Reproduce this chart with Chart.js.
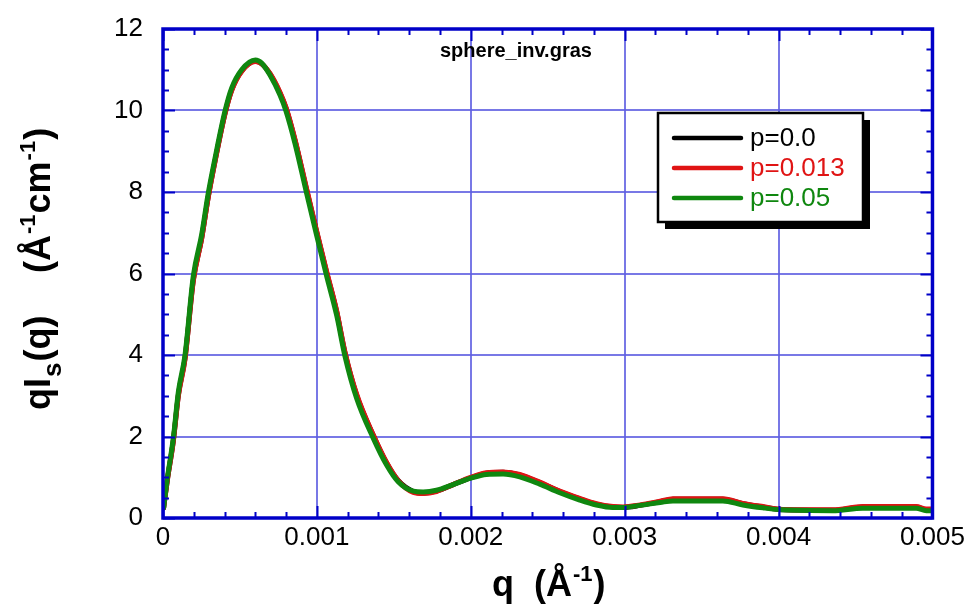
<!DOCTYPE html>
<html>
<head>
<meta charset="utf-8">
<script src="https://cdn.jsdelivr.net/npm/chart.js@4/dist/chart.umd.min.js"></script>
<style>
  html, body { margin: 0; padding: 0; background: #ffffff; }
  #wrap { width: 969px; height: 608px; position: relative; }
</style>
</head>
<body>
<div id="wrap"><canvas id="c" width="969" height="608"></canvas></div>
<script>
// Scattering vector q (1/Å)
const qValues = [
  0.000004, 0.000028, 0.000067, 0.0001, 0.000143, 0.000197, 0.000251, 0.000294,
  0.000338, 0.000403, 0.000446, 0.000511, 0.0006, 0.00064, 0.000695, 0.00076,
  0.000799, 0.000857, 0.000933, 0.000998, 0.001063, 0.001128, 0.001182, 0.001258,
  0.001366, 0.001453, 0.001528, 0.001626, 0.00169, 0.001777, 0.001885, 0.001994,
  0.002102, 0.00221, 0.002318, 0.002448, 0.002578, 0.002708, 0.002816, 0.002924,
  0.00299, 0.0031, 0.00323, 0.003314, 0.003638, 0.003768, 0.003898, 0.004028,
  0.004352, 0.004547, 0.004894, 0.00496, 0.005
];
// q*I_s(q) for each polydispersity p
const seriesP0 = [
  0.25, 0.93, 1.9, 3.02, 3.92, 5.84, 6.86, 7.88,
  8.76, 9.93, 10.5, 10.97, 11.21, 11.15, 10.9, 10.43,
  10.06, 9.28, 8.06, 7.03, 6.03, 5.07, 4.06, 3.02,
  2.03, 1.35, 0.92, 0.65, 0.61, 0.66, 0.82, 0.98,
  1.1, 1.12, 1.06, 0.87, 0.65, 0.47, 0.34, 0.27,
  0.26, 0.31, 0.4, 0.46, 0.46, 0.35, 0.27, 0.2,
  0.19, 0.27, 0.27, 0.2, 0.2
];
const seriesP013 = [
  0.25, 0.92, 1.88, 3.0, 3.9, 5.82, 6.85, 7.87,
  8.75, 9.92, 10.49, 10.96, 11.2, 11.15, 10.91, 10.45,
  10.08, 9.3, 8.08, 7.05, 6.05, 5.09, 4.08, 3.04,
  2.04, 1.36, 0.92, 0.63, 0.6, 0.65, 0.82, 0.99,
  1.11, 1.13, 1.07, 0.88, 0.66, 0.48, 0.35, 0.28,
  0.27, 0.32, 0.41, 0.47, 0.47, 0.36, 0.28, 0.21,
  0.2, 0.28, 0.28, 0.22, 0.22
];
const seriesP05 = [
  0.25, 0.97, 1.96, 3.1, 4.0, 5.94, 6.95, 7.97,
  8.83, 9.99, 10.55, 11.0, 11.24, 11.17, 10.87, 10.38,
  9.99, 9.2, 7.97, 6.94, 5.94, 4.98, 3.98, 2.94,
  1.96, 1.3, 0.89, 0.66, 0.64, 0.68, 0.82, 0.97,
  1.07, 1.08, 1.01, 0.83, 0.62, 0.44, 0.32, 0.26,
  0.26, 0.31, 0.38, 0.42, 0.42, 0.32, 0.25, 0.2,
  0.18, 0.24, 0.24, 0.18, 0.18
];
const xTickLabels = ['0', '0.001', '0.002', '0.003', '0.004', '0.005'];
const yTickLabels = ['0', '2', '4', '6', '8', '10', '12'];
const legendLabels = ['p=0.0', 'p=0.013', 'p=0.05'];
const seriesColors = ['#000000', '#e01414', '#0f870f'];
const plotTitle = 'sphere_inv.gras';

const FONT = "'Liberation Sans', Arial, sans-serif";
const AXIS_BLUE = '#0000c8';
const GRID_BLUE = 'rgba(96, 96, 226, 0.85)';

function toPoints(ys) {
  return qValues.map((q, i) => ({ x: q, y: ys[i] }));
}

// Frame, inward minor/major ticks on all four sides, titles and legend
const framePlugin = {
  id: 'frame',
  afterDatasetsDraw(chart) {
    const { ctx, chartArea: a, scales: { x, y } } = chart;
    ctx.save();
    ctx.strokeStyle = AXIS_BLUE;
    ctx.lineWidth = 2;
    for (let i = 0; i <= 25; i++) {
      const px = Math.round(x.getPixelForValue(i * 0.0002)) + 0.5;
      const len = i % 5 === 0 ? 12 : 6;
      ctx.beginPath();
      ctx.moveTo(px, a.bottom); ctx.lineTo(px, a.bottom - len);
      ctx.moveTo(px, a.top); ctx.lineTo(px, a.top + len);
      ctx.stroke();
    }
    for (let j = 0; j <= 24; j++) {
      const py = Math.round(y.getPixelForValue(j * 0.5)) + 0.5;
      const len = j % 4 === 0 ? 12 : 6;
      ctx.beginPath();
      ctx.moveTo(a.left, py); ctx.lineTo(a.left + len, py);
      ctx.moveTo(a.right, py); ctx.lineTo(a.right - len, py);
      ctx.stroke();
    }
    ctx.lineWidth = 3.5;
    ctx.strokeRect(a.left, a.top, a.right - a.left, a.bottom - a.top);
    ctx.restore();
  },
  afterDraw(chart) {
    const { ctx } = chart;
    ctx.save();
    ctx.fillStyle = '#000';
    ctx.textBaseline = 'alphabetic';

    // plot title
    ctx.font = 'bold 20px ' + FONT;
    ctx.textAlign = 'left';
    ctx.fillText(plotTitle, 440, 57);

    // x axis title: q  (Å^-1)
    let cx = 492;
    const xb = 596;
    ctx.font = 'bold 36px ' + FONT;
    ctx.fillText('q  (Å', cx, xb);
    cx += ctx.measureText('q  (Å').width;
    ctx.font = 'bold 22px ' + FONT;
    ctx.fillText('-1', cx + 1, xb - 15);
    cx += ctx.measureText('-1').width + 2;
    ctx.font = 'bold 36px ' + FONT;
    ctx.fillText(')', cx, xb);

    // y axis title: qI_s(q)   (Å^-1 cm^-1)
    ctx.translate(50, 410);
    ctx.rotate(-Math.PI / 2);
    let t = 0;
    ctx.font = 'bold 36px ' + FONT;
    ctx.fillText('qI', t, 0);
    t += ctx.measureText('qI').width;
    ctx.font = 'bold 26px ' + FONT;
    ctx.fillText('s', t + 1, 11);
    t += ctx.measureText('s').width + 2;
    ctx.font = 'bold 36px ' + FONT;
    ctx.fillText('(q)', t, 0);
    t = 137;
    ctx.fillText('(Å', t, 0);
    t += ctx.measureText('(Å').width;
    ctx.font = 'bold 22px ' + FONT;
    ctx.fillText('-1', t + 1, -15);
    t += ctx.measureText('-1').width + 2;
    ctx.font = 'bold 36px ' + FONT;
    ctx.fillText('cm', t, 0);
    t += ctx.measureText('cm').width;
    ctx.font = 'bold 22px ' + FONT;
    ctx.fillText('-1', t + 1, -15);
    t += ctx.measureText('-1').width + 2;
    ctx.font = 'bold 36px ' + FONT;
    ctx.fillText(')', t, 0);
    ctx.restore();

    // legend box with drop shadow
    ctx.save();
    const bx = 658, by = 113, bw = 205, bh = 109, sh = 7;
    ctx.fillStyle = '#000';
    ctx.fillRect(bx + sh, by + sh, bw, bh);
    ctx.fillStyle = '#fff';
    ctx.fillRect(bx, by, bw, bh);
    ctx.strokeStyle = '#000';
    ctx.lineWidth = 2.5;
    ctx.strokeRect(bx, by, bw, bh);
    const rows = [138, 168, 198];
    ctx.font = '26px ' + FONT;
    ctx.textAlign = 'left';
    ctx.textBaseline = 'middle';
    legendLabels.forEach((lab, i) => {
      ctx.strokeStyle = seriesColors[i];
      ctx.lineWidth = 4.5;
      ctx.lineCap = 'round';
      ctx.beginPath();
      ctx.moveTo(674, rows[i]); ctx.lineTo(741, rows[i]);
      ctx.stroke();
      ctx.fillStyle = seriesColors[i];
      ctx.fillText(lab, 750, rows[i] + 1);
    });
    ctx.restore();
  }
};

const gridColor = (ctx) => {
  const n = ctx.scale.ticks.length;
  return (ctx.index === 0 || ctx.index === n - 1) ? 'rgba(0,0,0,0)' : GRID_BLUE;
};

new Chart(document.getElementById('c'), {
  type: 'line',
  data: {
    datasets: [
      { label: legendLabels[0], data: toPoints(seriesP0), borderColor: seriesColors[0], order: 3 },
      { label: legendLabels[1], data: toPoints(seriesP013), borderColor: seriesColors[1], order: 2 },
      { label: legendLabels[2], data: toPoints(seriesP05), borderColor: seriesColors[2], order: 1 }
    ].map(d => Object.assign(d, {
      borderWidth: 5, pointRadius: 0, fill: false,
      cubicInterpolationMode: 'monotone', borderJoinStyle: 'round', borderCapStyle: 'round'
    }))
  },
  options: {
    responsive: false,
    animation: false,
    devicePixelRatio: 1,
    layout: { padding: { left: 0, right: 36, top: 29, bottom: 0 } },
    plugins: { legend: { display: false }, tooltip: { enabled: false }, title: { display: false } },
    scales: {
      x: {
        type: 'linear', min: 0, max: 0.005,
        border: { display: false },
        grid: { color: gridColor, lineWidth: 2, drawTicks: false },
        ticks: {
          stepSize: 0.001, autoSkip: false, maxRotation: 0, padding: 4,
          color: '#000', font: { family: FONT, size: 26 },
          callback: (v, i) => xTickLabels[i]
        },
        afterFit: (s) => { s.height = 90; }
      },
      y: {
        type: 'linear', min: 0, max: 12,
        border: { display: false },
        grid: { color: gridColor, lineWidth: 2, drawTicks: false },
        ticks: {
          stepSize: 2, autoSkip: false, padding: 20,
          color: '#000', font: { family: FONT, size: 26 },
          callback: (v, i) => yTickLabels[i]
        },
        afterFit: (s) => { s.width = 163; s.paddingTop = 0; s.paddingBottom = 0; }
      }
    }
  },
  plugins: [framePlugin]
});
</script>
</body>
</html>
